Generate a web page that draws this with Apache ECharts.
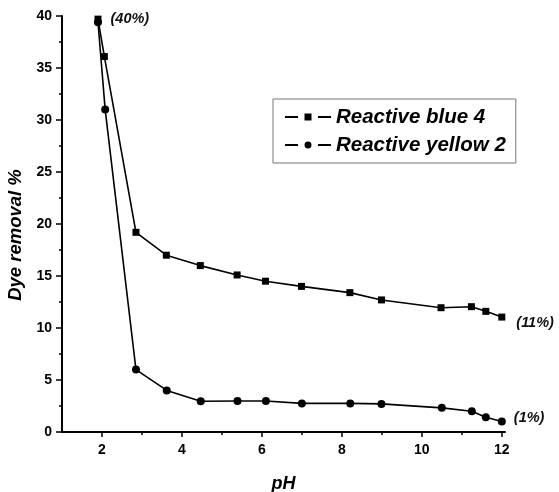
<!DOCTYPE html>
<html>
<head>
  <meta charset="utf-8">
  <title>Dye removal vs pH</title>
  <script src="https://fastly.jsdelivr.net/npm/echarts@6/dist/echarts.min.js"></script>
</head>
<body style="margin:0;background:#fff">
<div id="main" style="width:559px;height:492px;"></div>
<script type="text/javascript">
  // values
  const phBlue = [1.9, 2.06, 2.85, 3.61, 4.46, 5.38, 6.09, 6.99, 8.2, 8.99, 10.48, 11.24, 11.6, 12.0];
  const blue4 = [39.7, 36.1, 19.2, 17.0, 16.0, 15.1, 14.5, 14.0, 13.4, 12.7, 11.95, 12.05, 11.6, 11.05];
  const phYellow = [1.9, 2.08, 2.85, 3.62, 4.47, 5.39, 6.1, 7.0, 8.21, 8.99, 10.5, 11.25, 11.6, 12.0];
  const yellow2 = [39.4, 31.0, 6.0, 4.0, 2.95, 2.98, 2.98, 2.75, 2.75, 2.7, 2.32, 2.0, 1.42, 1.0];
  const seriesNames = ['Reactive blue 4', 'Reactive yellow 2'];
  const xMajor = [2, 4, 6, 8, 10, 12];
  const xMinor = [3, 5, 7, 9, 11];

  const font = 'Liberation Sans, Arial, sans-serif';
  const noteStyle = {fontFamily: font, fontSize: 14.5, fontWeight: 'bold', fontStyle: 'italic', color: '#111'};

  function pairs(xs, ys) {
    return ys.map((v, i) => [xs[i], v]);
  }
  const blueData = pairs(phBlue, blue4);
  const yellowData = pairs(phYellow, yellow2);
  blueData[0] = {value: blueData[0], label: Object.assign({show: true, position: 'right', distance: 9, formatter: '(40%)'}, noteStyle)};
  const lb = blueData.length - 1;
  blueData[lb] = {value: blueData[lb], label: Object.assign({show: true, position: 'right', distance: 11, offset: [0, 6], formatter: '(11%)'}, noteStyle)};
  const ly = yellowData.length - 1;
  yellowData[ly] = {value: yellowData[ly], label: Object.assign({show: true, position: 'right', distance: 8, offset: [0, -4], formatter: '(1%)'}, noteStyle)};

  var myChart = echarts.init(document.getElementById('main'));
  var option = {
    animation: false,
    grid: {left: 62, right: 54, top: 16, bottom: 60, outerBoundsMode: 'none', containLabel: false},
    legend: {
      orient: 'vertical',
      left: 273, top: 99,
      padding: [8, 10, 8, 12],
      itemGap: 8,
      itemWidth: 46, itemHeight: 10,
      borderColor: '#777', borderWidth: 1,
      textStyle: {fontFamily: font, fontSize: 20.5, fontWeight: 'bold', fontStyle: 'italic', color: '#000'},
      data: [
        {name: seriesNames[0], icon: 'path://M0,4h13v2H0z M19.5,1.5h7v7h-7z M33,4h13v2H33z'},
        {name: seriesNames[1], icon: 'path://M0,4h13v2H0z M23,1.5a3.5,3.5 0 1,0 0.01,0z M33,4h13v2H33z'}
      ]
    },
    xAxis: [{
      type: 'value', min: 1, max: 12.08,
      name: 'pH', nameLocation: 'middle', nameGap: 43,
      nameTextStyle: {fontFamily: font, fontSize: 18, fontWeight: 'bold', fontStyle: 'italic', color: '#000'},
      axisLine: {lineStyle: {color: '#000', width: 2}},
      axisTick: {length: 5, lineStyle: {color: '#000', width: 1.5}, customValues: xMajor},
      axisLabel: {customValues: xMajor, margin: 11, fontFamily: font, fontSize: 14, fontWeight: 'bold', color: '#000'},
      splitLine: {show: false}
    }, {
      type: 'value', min: 1, max: 12.08, position: 'bottom',
      axisLine: {show: false},
      axisTick: {length: 3, lineStyle: {color: '#000', width: 1.5}, customValues: xMinor},
      axisLabel: {show: false},
      splitLine: {show: false}
    }],
    yAxis: {
      type: 'value', min: 0, max: 40, interval: 5,
      name: 'Dye removal %', nameLocation: 'middle', nameGap: 30,
      nameTextStyle: {fontFamily: font, fontSize: 18.5, fontWeight: 'bold', fontStyle: 'italic', color: '#000', padding: [0, 22, 0, 0]},
      axisLine: {show: true, lineStyle: {color: '#000', width: 2}},
      axisTick: {show: true, length: 6, lineStyle: {color: '#000', width: 1.5}},
      minorTick: {show: true, splitNumber: 2, length: 3, lineStyle: {color: '#000', width: 1.5}},
      axisLabel: {margin: 10, fontFamily: font, fontSize: 14, fontWeight: 'bold', color: '#000'},
      splitLine: {show: false}
    },
    series: [
      {
        name: seriesNames[0], type: 'line', data: blueData,
        symbol: 'rect', symbolSize: 7,
        itemStyle: {color: '#000'},
        lineStyle: {color: '#000', width: 1.6},
        label: {show: false}
      },
      {
        name: seriesNames[1], type: 'line', data: yellowData,
        symbol: 'circle', symbolSize: 8,
        itemStyle: {color: '#000'},
        lineStyle: {color: '#000', width: 1.6},
        label: {show: false}
      }
    ]
  };
  myChart.setOption(option);
</script>
</body>
</html>
